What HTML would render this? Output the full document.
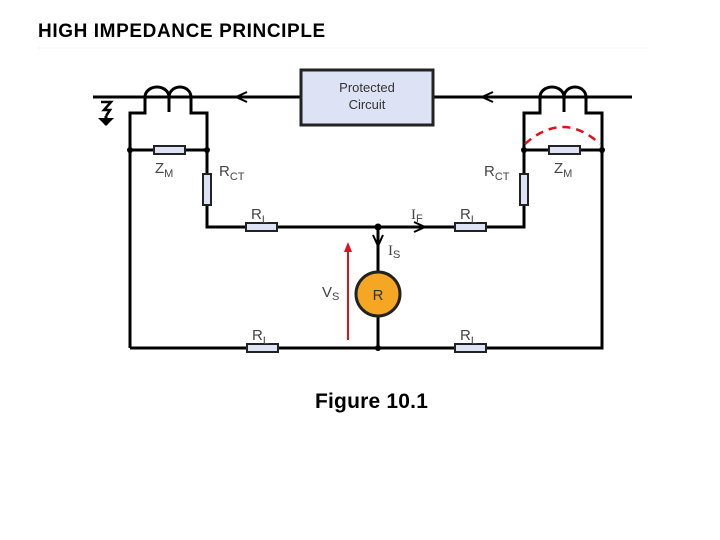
<!DOCTYPE html>
<html><head><meta charset="utf-8"><style>
html,body{margin:0;padding:0;background:#fff;}
body{width:720px;height:540px;overflow:hidden;position:relative;}
.t{position:absolute;font-family:"Liberation Sans",sans-serif;font-weight:bold;color:#000;}
</style></head><body>
<div class="t" style="left:38px;top:21px;font-size:19px;letter-spacing:0.6px;">HIGH IMPEDANCE PRINCIPLE</div>
<div class="t" style="left:315px;top:390px;font-size:21px;letter-spacing:0.2px;">Figure 10.1</div>
<svg width="720" height="540" style="position:absolute;left:0;top:0" xmlns="http://www.w3.org/2000/svg">
<line x1="38" y1="48" x2="648" y2="48" stroke="#f0f0f0" stroke-width="1"/>
<g stroke="#000" stroke-width="3" fill="none">
<line x1="93" y1="97" x2="301" y2="97"/>
<line x1="433" y1="97" x2="632" y2="97"/>
<path d="M145 97 A12 10 0 0 1 169 97 A11 10 0 0 1 191 97"/>
<path d="M145 97 V113 H130 V348"/>
<line x1="169" y1="97" x2="169" y2="112"/>
<path d="M191 97 V113 H207 V227 H378"/>
<line x1="130" y1="150" x2="207" y2="150"/>
<path d="M540 97 A12 10 0 0 1 564 97 A11 10 0 0 1 586 97"/>
<path d="M540 97 V113 H524 V227 H378"/>
<line x1="564" y1="97" x2="564" y2="112"/>
<path d="M586 97 V113 H602 V348 H130"/>
<line x1="524" y1="150" x2="602" y2="150"/>
<line x1="378" y1="227" x2="378" y2="348"/>
<path d="M247 92 L236 97 L247 102" stroke-width="2"/>
<path d="M493 92 L482 97 L493 102" stroke-width="2"/>
<path d="M414 222 L425 227 L414 232" stroke-width="2"/>
<path d="M373 235 L378 246 L383 235" stroke-width="2"/>
<path d="M101 102 L111 102 L104 110 L110 110 L106 116" stroke-width="2.5"/>
<line x1="106" y1="116" x2="106" y2="125"/>
</g>
<path d="M98 118 H114 L106 126 Z" fill="#000"/>
<g fill="#000">
<circle cx="130" cy="150" r="3"/><circle cx="207" cy="150" r="3"/>
<circle cx="524" cy="150" r="3"/><circle cx="602" cy="150" r="3"/>
<circle cx="378" cy="227" r="3.5"/><circle cx="378" cy="348" r="3"/>
</g>
<rect x="301" y="70" width="132" height="55" fill="#dde3f5" stroke="#222" stroke-width="3"/>
<text x="367" y="92" font-family="Liberation Sans,sans-serif" font-size="13" fill="#333" text-anchor="middle">Protected</text>
<text x="367" y="109" font-family="Liberation Sans,sans-serif" font-size="13" fill="#333" text-anchor="middle">Circuit</text>
<g fill="#dde3f5" stroke="#222" stroke-width="2">
<rect x="154" y="146" width="31" height="8"/>
<rect x="549" y="146" width="31" height="8"/>
<rect x="203" y="174" width="8" height="31"/>
<rect x="520" y="174" width="8" height="31"/>
<rect x="246" y="223" width="31" height="8"/>
<rect x="455" y="223" width="31" height="8"/>
<rect x="247" y="344" width="31" height="8"/>
<rect x="455" y="344" width="31" height="8"/>
</g>
<path d="M525 144 Q563 110 600 144" stroke="#e0101e" stroke-width="2.5" fill="none" stroke-dasharray="8,6"/>
<circle cx="378" cy="294" r="22" fill="#f5a623" stroke="#222" stroke-width="3"/>
<text x="378" y="300" font-family="Liberation Sans,sans-serif" font-size="15" fill="#333" text-anchor="middle">R</text>
<line x1="348" y1="340" x2="348" y2="250" stroke="#e0101e" stroke-width="2"/>
<path d="M344 252 L348 242 L352 252 Z" fill="#e0101e"/>
<g font-family="Liberation Sans,sans-serif" fill="#444">
<text x="155" y="173" font-size="15">Z<tspan font-size="11" dy="4">M</tspan></text>
<text x="219" y="176" font-size="15">R<tspan font-size="11" dy="4">CT</tspan></text>
<text x="484" y="176" font-size="15">R<tspan font-size="11" dy="4">CT</tspan></text>
<text x="554" y="173" font-size="15">Z<tspan font-size="11" dy="4">M</tspan></text>
<text x="251" y="219" font-size="15">R<tspan font-size="11" dy="4">L</tspan></text>
<text x="460" y="219" font-size="15">R<tspan font-size="11" dy="4">L</tspan></text>
<text x="252" y="340" font-size="15">R<tspan font-size="11" dy="4">L</tspan></text>
<text x="460" y="340" font-size="15">R<tspan font-size="11" dy="4">L</tspan></text>
<text x="411" y="219" font-size="15" font-family="Liberation Serif,serif">I<tspan font-size="11" dy="3" font-family="Liberation Sans,sans-serif">F</tspan></text>
<text x="388" y="255" font-size="15" font-family="Liberation Serif,serif">I<tspan font-size="11" dy="3" font-family="Liberation Sans,sans-serif">S</tspan></text>
<text x="322" y="297" font-size="15">V<tspan font-size="11" dy="3">S</tspan></text>
</g>
</svg>
</body></html>
